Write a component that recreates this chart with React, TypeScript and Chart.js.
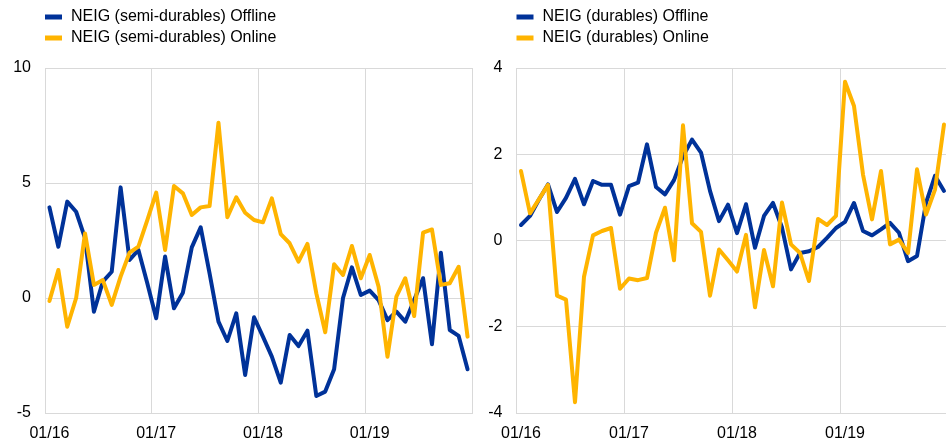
import React, { useEffect, useRef } from 'react';
import { Chart, registerables } from 'chart.js';

Chart.register(...registerables);

const MONTHS = ['01', '02', '03', '04', '05', '06', '07', '08', '09', '10', '11', '12'];
const YEARS = ['16', '17', '18', '19'];
const CATEGORIES = YEARS.flatMap((y) => MONTHS.map((m) => `${m}/${y}`));

const SEMI_OFFLINE = [
  3.94, 2.23, 4.19, 3.75, 2.6, -0.6, 0.71, 1.14, 4.81, 1.65, 2.09, 0.64,
  -0.88, 1.8, -0.45, 0.23, 2.2, 3.07, 1.07, -1.03, -1.87, -0.67, -3.35, -0.84,
  -1.68, -2.55, -3.68, -1.61, -2.09, -1.42, -4.26, -4.07, -3.1, 0.0, 1.33, 0.13,
  0.32, -0.09, -0.96, -0.59, -1.03, -0.09, 0.86, -2.01, 1.97, -1.39, -1.65, -3.1,
];
const SEMI_ONLINE = [
  -0.13, 1.22, -1.25, 0.0, 2.81, 0.57, 0.78, -0.3, 0.93, 1.97, 2.23, 3.39,
  4.58, 2.09, 4.87, 4.55, 3.61, 3.94, 4.0, 7.62, 3.51, 4.38, 3.71, 3.39,
  3.29, 4.33, 2.78, 2.38, 1.58, 2.35, 0.2, -1.49, 1.47, 1.0, 2.26, 0.86,
  1.87, 0.49, -2.55, 0.06, 0.86, -0.78, 2.84, 2.98, 0.57, 0.64, 1.36, -1.68,
];
const DUR_OFFLINE = [
  0.36, 0.57, 0.95, 1.3, 0.66, 0.99, 1.43, 0.84, 1.38, 1.29, 1.29, 0.6,
  1.26, 1.34, 2.23, 1.24, 1.07, 1.4, 1.95, 2.34, 2.04, 1.15, 0.45, 0.83,
  0.17, 0.84, -0.17, 0.57, 0.87, 0.3, -0.67, -0.29, -0.25, -0.15, 0.06, 0.29,
  0.43, 0.87, 0.22, 0.12, 0.26, 0.41, 0.18, -0.48, -0.36, 0.87, 1.5, 1.15,
];
const DUR_ONLINE = [
  1.61, 0.63, 0.96, 1.29, -1.28, -1.37, -3.75, -0.84, 0.12, 0.22, 0.29, -1.12,
  -0.88, -0.92, -0.87, 0.18, 0.76, -0.46, 2.67, 0.4, 0.2, -1.28, -0.21, -0.46,
  -0.72, 0.13, -1.55, -0.22, -1.06, 0.88, -0.09, -0.29, -0.94, 0.5, 0.36, 0.57,
  3.68, 3.12, 1.53, 0.49, 1.61, -0.09, 0.02, -0.29, 1.65, 0.6, 1.18, 2.69,
];

const BLUE = '#003299';
const YELLOW = '#FFB400';
const GRID = '#d9d9d9';
const FONT = '"Liberation Sans", Arial, sans-serif';

const legendPlugin = {
  id: 'stackLegend',
  afterDraw(chart: any) {
    const ctx = chart.ctx;
    const left = chart.chartArea.left;
    const items = [chart.data.datasets[0], chart.data.datasets[1]];
    const rows = [17, 38];
    ctx.save();
    ctx.font = `16px ${FONT}`;
    ctx.textBaseline = 'middle';
    ctx.textAlign = 'left';
    items.forEach((ds: any, i: number) => {
      ctx.fillStyle = ds.borderColor;
      ctx.fillRect(left, rows[i] - 2.5, 17, 5);
      ctx.fillStyle = '#000';
      ctx.fillText(ds.label, left + 26, rows[i]);
    });
    ctx.restore();
  },
};

type PanelProps = {
  x: number;
  width: number;
  axisWidth: number;
  padRight: number;
  yMin: number;
  yMax: number;
  step: number;
  offLabel: string;
  onLabel: string;
  off: number[];
  on: number[];
};

function Panel(p: PanelProps) {
  const ref = useRef<HTMLCanvasElement>(null);
  useEffect(() => {
    if (!ref.current) return;
    const chart = new Chart(ref.current, {
      type: 'line',
      data: {
        labels: CATEGORIES,
        datasets: [
          { label: p.offLabel, data: p.off, borderColor: BLUE, backgroundColor: BLUE, order: 1 },
          { label: p.onLabel, data: p.on, borderColor: YELLOW, backgroundColor: YELLOW, order: 0 },
        ],
      },
      options: {
        responsive: false,
        animation: false,
        devicePixelRatio: 1,
        layout: { padding: { left: 0, right: p.padRight, top: 68, bottom: 0 } },
        plugins: { legend: { display: false }, tooltip: { enabled: false } },
        elements: {
          point: { radius: 0 },
          line: { borderWidth: 4, tension: 0, borderJoinStyle: 'round', borderCapStyle: 'round' },
        },
        scales: {
          x: {
            type: 'category',
            offset: true,
            afterFit: (s: any) => { s.height = 26; },
            grid: {
              offset: true,
              drawTicks: false,
              lineWidth: 1,
              color: (c: any) => (c.type !== 'tick' || c.index % 12 === 0 ? GRID : 'rgba(0,0,0,0)'),
            },
            border: { display: true, color: GRID },
            ticks: {
              autoSkip: false,
              maxRotation: 0,
              minRotation: 0,
              padding: 11,
              color: '#000',
              font: { family: FONT, size: 16 },
              callback: (_v: any, i: number) => (i % 12 === 0 ? CATEGORIES[i] : ''),
            },
          },
          y: {
            min: p.yMin,
            max: p.yMax,
            afterFit: (s: any) => { s.width = p.axisWidth; },
            grid: { color: GRID, drawTicks: false, lineWidth: 1 },
            border: { display: true, color: GRID },
            ticks: {
              stepSize: p.step,
              padding: 14,
              color: '#000',
              font: { family: FONT, size: 16 },
            },
          },
        },
      },
      plugins: [legendPlugin],
    } as any);
    return () => chart.destroy();
  }, []);
  return (
    <div style={{ position: 'absolute', left: p.x, top: 0, width: p.width, height: 439 }}>
      <canvas ref={ref} width={p.width} height={439} style={{ display: 'block' }} />
    </div>
  );
}

export default function App() {
  return (
    <div style={{ position: 'absolute', left: 0, top: 0, width: 946, height: 439, overflow: 'hidden', background: '#fff' }}>
      <Panel
        x={0}
        width={480}
        axisWidth={45}
        padRight={8}
        yMin={-5}
        yMax={10}
        step={5}
        offLabel="NEIG (semi-durables) Offline"
        onLabel="NEIG (semi-durables) Online"
        off={SEMI_OFFLINE}
        on={SEMI_ONLINE}
      />
      <Panel
        x={480}
        width={480}
        axisWidth={36.5}
        padRight={11.5}
        yMin={-4}
        yMax={4}
        step={2}
        offLabel="NEIG (durables) Offline"
        onLabel="NEIG (durables) Online"
        off={DUR_OFFLINE}
        on={DUR_ONLINE}
      />
    </div>
  );
}
